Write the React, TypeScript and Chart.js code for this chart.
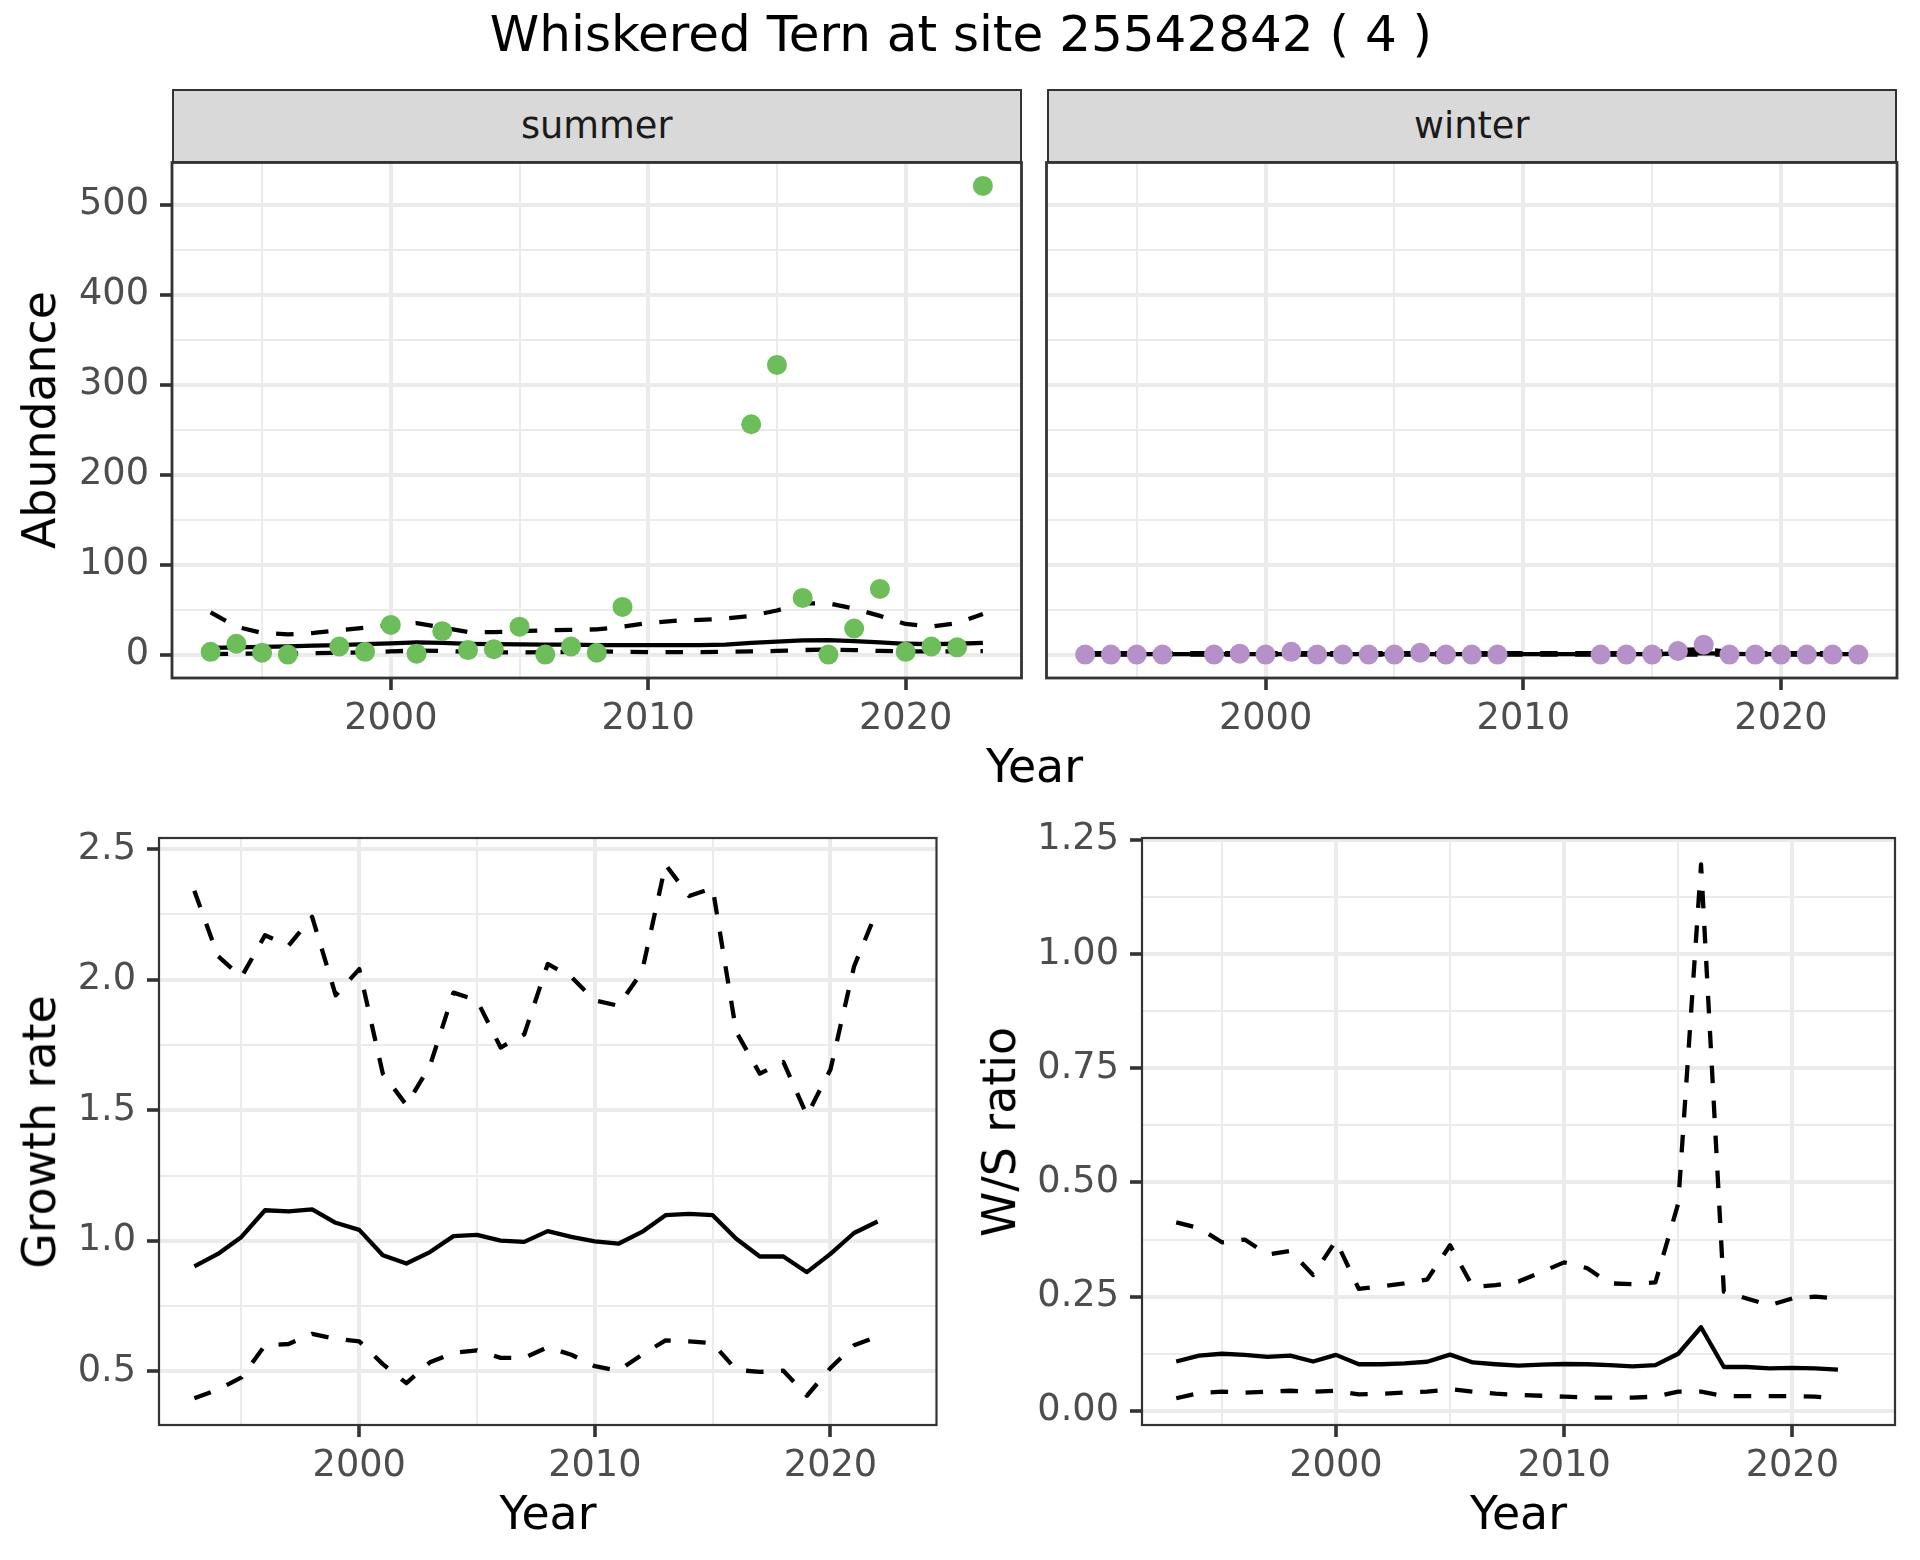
import React, { useEffect, useRef } from 'react';
import { Chart, registerables } from 'chart.js';

Chart.register(...registerables);

// ---------------- DATA ----------------
const lineYearsTop = [1993, 1994, 1995, 1996, 1997, 1998, 1999, 2000, 2001, 2002, 2003, 2004, 2005, 2006, 2007, 2008, 2009, 2010, 2011, 2012, 2013, 2014, 2015, 2016, 2017, 2018, 2019, 2020, 2021, 2022, 2023];

const summerPointYears = [1993, 1994, 1995, 1996, 1998, 1999, 2000, 2001, 2002, 2003, 2004, 2005, 2006, 2007, 2008, 2009, 2014, 2015, 2016, 2017, 2018, 2019, 2020, 2021, 2022, 2023];
const summerCounts = [3, 12, 2, 0, 9, 3, 33, 1, 26, 5, 6, 31, 0, 9, 2, 53, 256, 322, 63, 0, 29, 73, 3, 9, 8, 521];

const summerFit = [7.5, 8, 8.5, 9, 10, 10.5, 11.5, 12.5, 13.5, 13, 12, 11.5, 11.3, 11, 11, 10.5, 10.5, 10.5, 10.5, 10.6, 11, 13, 14.5, 15.8, 16, 15, 13.5, 12, 11.5, 12, 13];
const summerUpper = [47, 31, 24, 22.5, 24, 27, 30, 33, 35, 30, 25, 25, 26, 27, 27.5, 28, 31, 35, 37.5, 38.5, 40, 43, 49, 57, 57, 51, 43, 34, 31, 35, 45];
const summerLower = [0.5, 1, 1, 1, 1.5, 2, 2.5, 3.5, 4.5, 4, 3, 2.5, 2.5, 2.7, 3, 3.5, 3, 2.8, 2.7, 2.7, 3, 3.5, 4, 5, 5.5, 5, 4, 3.5, 3.5, 3.7, 3.8];

const winterPointYears = [1993, 1994, 1995, 1996, 1998, 1999, 2000, 2001, 2002, 2003, 2004, 2005, 2006, 2007, 2008, 2009, 2013, 2014, 2015, 2016, 2017, 2018, 2019, 2020, 2021, 2022, 2023];
const winterCounts = [0, 0, 0, 0, 0, 1, 0, 3, 0, 0, 0, 0, 2, 0, 0, 0, 0, 0, 0, 4, 11, 0, 0, 0, 0, 0, 0];

const winterFit = [0.4, 0.4, 0.4, 0.4, 0.4, 0.4, 0.4, 0.4, 0.4, 0.4, 0.4, 0.4, 0.4, 0.4, 0.4, 0.4, 0.4, 0.4, 0.4, 0.4, 0.4, 0.4, 0.6, 1.2, 1.5, 0.8, 0.4, 0.4, 0.4, 0.4, 0.4];
const winterUpper = [1.5, 1.5, 1.5, 1.5, 1.5, 1.5, 1.5, 1.5, 1.5, 1.5, 1.5, 1.5, 1.5, 1.5, 1.5, 1.5, 1.5, 1.6, 1.7, 1.7, 1.6, 1.7, 2.5, 5, 6, 3, 1.6, 1.5, 1.5, 1.5, 1.5];
const winterLower = [0.05, 0.05, 0.05, 0.05, 0.05, 0.05, 0.05, 0.05, 0.05, 0.05, 0.05, 0.05, 0.05, 0.05, 0.05, 0.05, 0.05, 0.05, 0.05, 0.05, 0.05, 0.05, 0.05, 0.05, 0.05, 0.05, 0.05, 0.05, 0.05, 0.05, 0.05];

const lineYearsBottom = [1993, 1994, 1995, 1996, 1997, 1998, 1999, 2000, 2001, 2002, 2003, 2004, 2005, 2006, 2007, 2008, 2009, 2010, 2011, 2012, 2013, 2014, 2015, 2016, 2017, 2018, 2019, 2020, 2021, 2022];

const growthFit = [0.902, 0.95, 1.015, 1.117, 1.113, 1.12, 1.069, 1.042, 0.945, 0.913, 0.957, 1.018, 1.023, 1.001, 0.996, 1.037, 1.015, 0.998, 0.989, 1.034, 1.098, 1.103, 1.098, 1.008, 0.94, 0.94, 0.88, 0.95, 1.03, 1.074];
const growthUpper = [2.34, 2.09, 2.01, 2.17, 2.13, 2.24, 1.94, 2.04, 1.64, 1.52, 1.67, 1.95, 1.92, 1.74, 1.79, 2.06, 2.01, 1.92, 1.9, 2.03, 2.44, 2.32, 2.35, 1.8, 1.64, 1.685, 1.48, 1.656, 2.05, 2.27];
const growthLower = [0.397, 0.43, 0.477, 0.6, 0.605, 0.644, 0.625, 0.615, 0.528, 0.455, 0.535, 0.571, 0.581, 0.552, 0.552, 0.593, 0.564, 0.52, 0.503, 0.564, 0.619, 0.615, 0.608, 0.506, 0.498, 0.503, 0.407, 0.513, 0.6, 0.634];

const ratioFit = [0.108, 0.121, 0.125, 0.1225, 0.118, 0.121, 0.108, 0.1225, 0.102, 0.102, 0.104, 0.1075, 0.123, 0.106, 0.102, 0.099, 0.101, 0.1025, 0.102, 0.1, 0.0975, 0.1, 0.125, 0.183, 0.096, 0.096, 0.093, 0.094, 0.093, 0.09];
const ratioUpper = [0.4125, 0.4, 0.369, 0.375, 0.342, 0.35, 0.2975, 0.3725, 0.267, 0.2725, 0.279, 0.2875, 0.3625, 0.271, 0.275, 0.283, 0.304, 0.325, 0.3125, 0.279, 0.2775, 0.281, 0.454, 1.196, 0.261, 0.246, 0.231, 0.246, 0.25, 0.246];
const ratioLower = [0.0275, 0.039, 0.042, 0.04, 0.042, 0.044, 0.042, 0.044, 0.036, 0.0375, 0.04, 0.042, 0.0475, 0.042, 0.0375, 0.035, 0.033, 0.031, 0.029, 0.029, 0.029, 0.031, 0.042, 0.042, 0.0325, 0.032, 0.032, 0.032, 0.031, 0.0275];

const yearMajor = [2000, 2010, 2020];
const yearMinor = [1995, 2005, 2015];
const abundMajor = [0, 100, 200, 300, 400, 500];
const abundMinor = [50, 150, 250, 350, 450];
const growthMajor = [0.5, 1.0, 1.5, 2.0, 2.5];
const growthMinor = [0.75, 1.25, 1.75, 2.25];
const ratioMajor = [0, 0.25, 0.5, 0.75, 1.0, 1.25];
const ratioMinor = [0.125, 0.375, 0.625, 0.875, 1.125];

const TITLE = 'Whiskered Tern at site 25542842 ( 4 )';

// ---------------- STYLE ----------------
const PAGE_W = 1920;
const PAGE_H = 1560;
const FONT = "'DejaVu Sans', 'Liberation Sans', sans-serif";
const GREEN = '#6DBE5A';
const PURPLE = '#B590C9';
const GRID = '#EBEBEB';
const DARK = '#333333';
const TICK_TEXT = '#4D4D4D';
const LW = 4.3;
const DASH = [17.5, 17.5];
const TICK_FONT = 36.7;
const AXIS_TITLE_FONT = 45.8;
const Y_AXIS_W = 140;
const X_AXIS_H = 80;
const TICK_LEN = 12;

type Panel = {
  left: number; top: number; right: number; bottom: number;
  xMin: number; xMax: number; yMin: number; yMax: number;
  yMajor: number[]; yMinor: number[];
  yLabels: boolean; yFmt: (v: number) => string;
  datasets: any[];
  border: number;
};

const pts = (xs: number[], ys: number[]) => xs.map((x, i) => ({ x, y: ys[i] }));

const lineDs = (xs: number[], ys: number[], dashed: boolean) => ({
  data: pts(xs, ys), showLine: true, pointRadius: 0, borderColor: '#000000',
  borderWidth: LW, borderDash: dashed ? DASH : [], tension: 0, fill: false,
  borderJoinStyle: 'round', borderCapStyle: 'butt',
});
const pointDs = (xs: number[], ys: number[], color: string) => ({
  data: pts(xs, ys), showLine: false, pointRadius: 10, pointBackgroundColor: color,
  pointBorderWidth: 0, backgroundColor: color, borderColor: color,
});

const borderPlugin = {
  id: 'panelBorder',
  afterDraw(chart: any, _args: any, opts: any) {
    const { ctx, chartArea } = chart;
    ctx.save();
    ctx.strokeStyle = DARK;
    ctx.lineWidth = opts.width || 2.5;
    ctx.strokeRect(chartArea.left, chartArea.top, chartArea.right - chartArea.left, chartArea.bottom - chartArea.top);
    ctx.restore();
  },
};

const has = (arr: number[], v: number) => arr.some((m) => Math.abs(m - v) < 1e-9);

function buildChart(canvas: HTMLCanvasElement, p: Panel) {
  const xTicks = [...yearMinor, ...yearMajor].sort((a, b) => a - b);
  const yTicks = [...p.yMinor, ...p.yMajor].sort((a, b) => a - b);
  return new Chart(canvas, {
    type: 'scatter',
    data: { datasets: p.datasets },
    plugins: [borderPlugin],
    options: {
      responsive: false,
      animation: false,
      devicePixelRatio: 1,
      events: [],
      layout: {
        padding: {
          left: p.left - Y_AXIS_W,
          top: p.top,
          right: PAGE_W - p.right,
          bottom: PAGE_H - p.bottom - X_AXIS_H,
        },
      },
      plugins: {
        legend: { display: false },
        tooltip: { enabled: false },
        panelBorder: { width: p.border },
      } as any,
      scales: {
        x: {
          type: 'linear',
          min: p.xMin,
          max: p.xMax,
          afterBuildTicks: (s: any) => { s.ticks = xTicks.map((v) => ({ value: v })); },
          afterFit: (s: any) => { s.height = X_AXIS_H; },
          border: { display: false },
          grid: {
            color: GRID,
            lineWidth: (c: any) => (has(yearMajor, c.tick.value) ? 4 : 2),
            drawTicks: true,
            tickLength: TICK_LEN,
            tickWidth: 3.6,
            tickColor: (c: any) => (has(yearMajor, c.tick.value) ? DARK : 'rgba(0,0,0,0)'),
          },
          ticks: {
            autoSkip: false,
            maxRotation: 0,
            padding: 7,
            color: TICK_TEXT,
            font: { family: FONT, size: TICK_FONT },
            callback: (v: any) => (has(yearMajor, Number(v)) ? String(v) : ''),
          },
        },
        y: {
          type: 'linear',
          min: p.yMin,
          max: p.yMax,
          afterBuildTicks: (s: any) => { s.ticks = yTicks.map((v) => ({ value: v })); },
          afterFit: (s: any) => { s.width = Y_AXIS_W; },
          border: { display: false },
          grid: {
            color: GRID,
            lineWidth: (c: any) => (has(p.yMajor, c.tick.value) ? 4 : 2),
            drawTicks: p.yLabels,
            tickLength: TICK_LEN,
            tickWidth: 3.6,
            tickColor: (c: any) => (has(p.yMajor, c.tick.value) ? DARK : 'rgba(0,0,0,0)'),
          },
          ticks: {
            display: p.yLabels,
            autoSkip: false,
            padding: 11,
            color: TICK_TEXT,
            font: { family: FONT, size: TICK_FONT },
            callback: (v: any) => (has(p.yMajor, Number(v)) ? p.yFmt(Number(v)) : ''),
          },
        },
      },
    } as any,
  });
}

const TOP_Y0 = 162.5;
const TOP_Y1 = 678;
const BOT_Y0 = 838;
const BOT_Y1 = 1425;

const panels: Panel[] = [
  {
    left: 172, top: TOP_Y0, right: 1021.5, bottom: TOP_Y1,
    xMin: 1991.5, xMax: 2024.5, yMin: -26.05, yMax: 547.05,
    yMajor: abundMajor, yMinor: abundMinor, yLabels: true, yFmt: (v) => String(v),
    border: 2.8,
    datasets: [
      pointDs(summerPointYears, summerCounts, GREEN),
      lineDs(lineYearsTop, summerFit, false),
      lineDs(lineYearsTop, summerUpper, true),
      lineDs(lineYearsTop, summerLower, true),
    ],
  },
  {
    left: 1046.5, top: TOP_Y0, right: 1897, bottom: TOP_Y1,
    xMin: 1991.5, xMax: 2024.5, yMin: -26.05, yMax: 547.05,
    yMajor: abundMajor, yMinor: abundMinor, yLabels: false, yFmt: (v) => String(v),
    border: 2.8,
    datasets: [
      pointDs(winterPointYears, winterCounts, PURPLE),
      lineDs(lineYearsTop, winterFit, false),
      lineDs(lineYearsTop, winterUpper, true),
      lineDs(lineYearsTop, winterLower, true),
    ],
  },
  {
    left: 159, top: BOT_Y0, right: 936.5, bottom: BOT_Y1,
    xMin: 1991.5, xMax: 2024.5, yMin: 0.295, yMax: 2.542,
    yMajor: growthMajor, yMinor: growthMinor, yLabels: true, yFmt: (v) => v.toFixed(1),
    border: 2.2,
    datasets: [
      lineDs(lineYearsBottom, growthFit, false),
      lineDs(lineYearsBottom, growthUpper, true),
      lineDs(lineYearsBottom, growthLower, true),
    ],
  },
  {
    left: 1142, top: BOT_Y0, right: 1895, bottom: BOT_Y1,
    xMin: 1991.5, xMax: 2024.5, yMin: -0.031, yMax: 1.254,
    yMajor: ratioMajor, yMinor: ratioMinor, yLabels: true, yFmt: (v) => v.toFixed(2),
    border: 2.2,
    datasets: [
      lineDs(lineYearsBottom, ratioFit, false),
      lineDs(lineYearsBottom, ratioUpper, true),
      lineDs(lineYearsBottom, ratioLower, true),
    ],
  },
];

const abs = (extra: React.CSSProperties): React.CSSProperties => ({
  position: 'absolute', fontFamily: FONT, whiteSpace: 'nowrap', lineHeight: 1, ...extra,
});

function Label({ x, y, size, text, rotate, color }: { x: number; y: number; size: number; text: string; rotate?: boolean; color?: string }) {
  return (
    <div style={abs({
      left: x, top: y, fontSize: size, color: color || '#000',
      transform: `translate(-50%, -50%)${rotate ? ' rotate(-90deg)' : ''}`,
    })}>{text}</div>
  );
}

function Strip({ left, right, top, bottom, text }: { left: number; right: number; top: number; bottom: number; text: string }) {
  return (
    <div style={abs({
      left, top, width: right - left, height: bottom - top, boxSizing: 'border-box',
      background: '#D9D9D9', border: `2.8px solid ${DARK}`, display: 'flex',
      alignItems: 'center', justifyContent: 'center', fontSize: TICK_FONT, color: '#1A1A1A',
    })}>{text}</div>
  );
}

export default function App() {
  const refs = [useRef<HTMLCanvasElement>(null), useRef<HTMLCanvasElement>(null), useRef<HTMLCanvasElement>(null), useRef<HTMLCanvasElement>(null)];
  useEffect(() => {
    const charts = panels.map((p, i) => buildChart(refs[i].current as HTMLCanvasElement, p));
    return () => charts.forEach((c) => c.destroy());
  }, []);

  return (
    <div style={{ position: 'absolute', left: 0, top: 0, width: PAGE_W, height: PAGE_H, background: '#fff', overflow: 'hidden' }}>
      {refs.map((r, i) => (
        <canvas key={i} ref={r} width={PAGE_W} height={PAGE_H}
          style={{ position: 'absolute', left: 0, top: 0, width: PAGE_W, height: PAGE_H }} />
      ))}
      <Label x={961} y={34} size={50} text={TITLE} />
      <Strip left={172} right={1021.5} top={88.6} bottom={TOP_Y0 + 1} text="summer" />
      <Strip left={1046.5} right={1897} top={88.6} bottom={TOP_Y0 + 1} text="winter" />
      <Label x={39.5} y={420} size={AXIS_TITLE_FONT} text="Abundance" rotate />
      <Label x={1034.5} y={767} size={AXIS_TITLE_FONT} text="Year" />
      <Label x={39.5} y={1131.5} size={AXIS_TITLE_FONT} text="Growth rate" rotate />
      <Label x={548} y={1514} size={AXIS_TITLE_FONT} text="Year" />
      <Label x={1000} y={1131.5} size={AXIS_TITLE_FONT} text="W/S ratio" rotate />
      <Label x={1518.5} y={1514} size={AXIS_TITLE_FONT} text="Year" />
    </div>
  );
}
